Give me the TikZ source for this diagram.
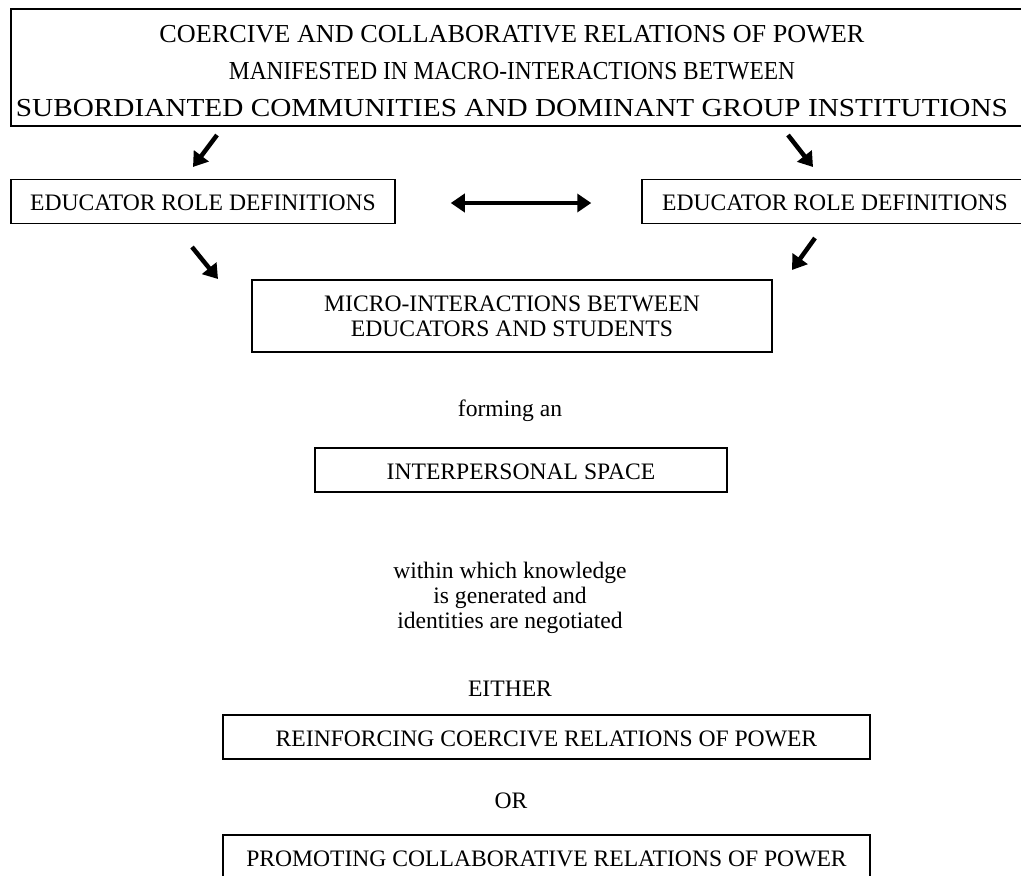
\documentclass[tikz,border=0pt]{standalone}
\usepackage{fontspec}
\setmainfont{Liberation Serif}
\usetikzlibrary{arrows.meta}
\newcommand{\fitline}[2]{\resizebox{#1}{\height}{#2}}

\begin{document}
\begin{tikzpicture}[x=1pt,y=-1pt,
  frame/.style={line width=1.5pt},
  box/.style={rectangle,draw,line width=1.5pt,minimum height=44pt,font=\fontsize{23.6}{25}\selectfont},
  onerow/.style={text height=18pt,text depth=0pt},
  txt/.style={inner sep=0pt,font=\fontsize{23.6}{25}\selectfont},
  fat/.style={line width=4.5pt,-{Triangle[length=14pt,width=18pt]}},
  dfat/.style={line width=4.5pt,{Triangle[length=14pt,width=18pt]}-{Triangle[length=14pt,width=18pt]}},
]
\clip (0,0) rectangle (1021,876);

% macro level
\node[txt,font=\fontsize{25.9}{37}\selectfont,align=center] (macro) at (512,71.5)
  {\fitline{705pt}{COERCIVE AND COLLABORATIVE RELATIONS OF POWER}\\
   \fitline{566pt}{MANIFESTED IN MACRO-INTERACTIONS BETWEEN}\\
   \fitline{992pt}{SUBORDIANTED COMMUNITIES AND DOMINANT GROUP INSTITUTIONS}};
\draw[frame] (11,9) rectangle (1040,126); %runs off the page

% role definitions
\node[box,onerow,minimum width=384pt] (erdL) at (203,201.5) {EDUCATOR ROLE DEFINITIONS};
\node[box,onerow,minimum width=386pt] (erdR) at (835,201.5) {EDUCATOR ROLE DEFINITIONS};

\coordinate (a1s) at (217,135);
\coordinate (a1e) at (193,167);
\coordinate (a2s) at (788,135);
\coordinate (a2e) at (813,167);
\draw[fat] (a1s) -- (a1e);
\draw[fat] (a2s) -- (a2e);
\draw[dfat] ([xshift=55pt,yshift=-1.5pt]erdL.east) -- ([xshift=-50pt,yshift=-1.5pt]erdR.west);

% micro level
\coordinate (a3s) at (192,247);
\coordinate (a3e) at (218,279);
\coordinate (a4s) at (815,238);
\coordinate (a4e) at (792,270);
\draw[fat] (a3s) -- (a3e);
\draw[fat] (a4s) -- (a4e);

\node[box,minimum width=520pt,minimum height=72pt,align=center] (micro) at (512,316)
  {MICRO-INTERACTIONS BETWEEN\\EDUCATORS AND STUDENTS};

\node[txt,anchor=base] (forming) at (510,416) {forming an};
\node[box,onerow,minimum width=412pt] (space) at (521,470) {INTERPERSONAL SPACE};

\node[txt,align=center] (within) at (510,597.5)
  {within which knowledge\\is generated and\\identities are negotiated};

% outcomes
\node[txt,anchor=base] (either) at (510,696) {EITHER};
\node[box,onerow,minimum width=647pt] (reinf) at (546.5,737) {REINFORCING COERCIVE RELATIONS OF POWER};
\node[txt,anchor=base] (or) at (511,808) {OR};
\node[box,onerow,minimum width=647pt] (promo) at (546.5,857) {PROMOTING COLLABORATIVE RELATIONS OF POWER};
\end{tikzpicture}
\end{document}
